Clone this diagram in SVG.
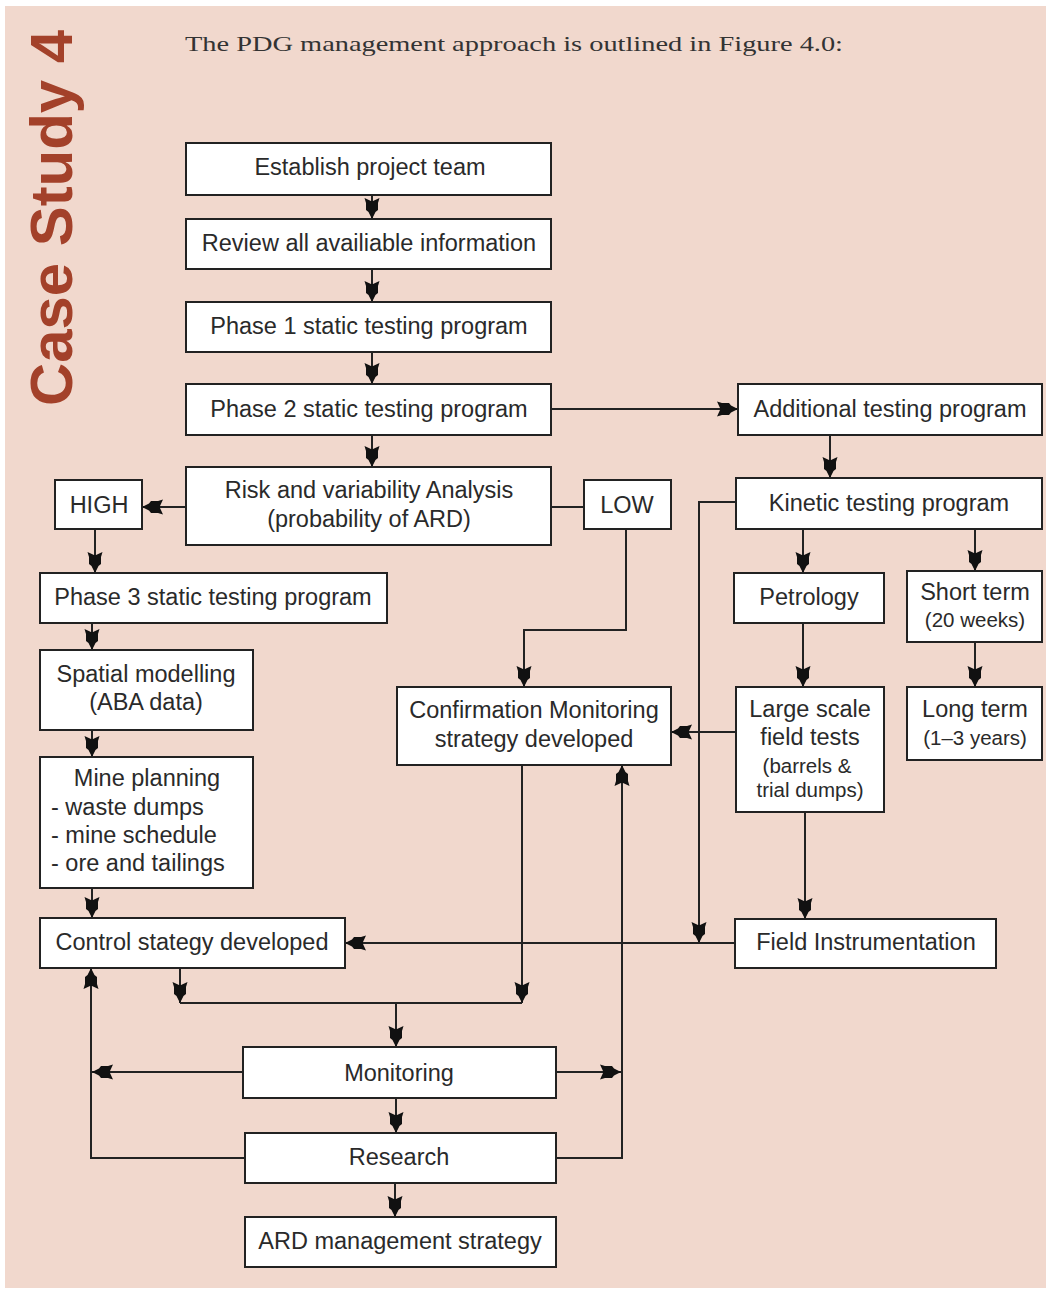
<svg xmlns="http://www.w3.org/2000/svg" width="1050" height="1292" viewBox="0 0 1050 1292">
<style>
.box{fill:#fff;stroke:#222;stroke-width:2}
.t{font-family:"Liberation Sans",Arial,sans-serif;font-size:23.5px;fill:#2a2a2a;text-anchor:middle}
.s{font-size:20.5px}
.l{text-anchor:start}
.ln{fill:none;stroke:#222;stroke-width:2}
</style>
<defs>
<marker id="ah" markerUnits="userSpaceOnUse" markerWidth="25" markerHeight="20" viewBox="-22 -10 25 20" refX="2" refY="0" orient="auto">
<path d="M2,0 L-5,-3.5 L-7,-6 L-14,-6 L-19,-7.5 L-16,-1 L-16,1 L-19,7.5 L-14,6 L-7,6 L-5,3.5 Z" fill="#111"/>
</marker>
</defs>
<rect x="0" y="0" width="1050" height="1292" fill="#fff"/>
<rect x="5" y="6" width="1041" height="1282" fill="#f1d8cd"/>
<text transform="translate(72,406) rotate(-90)" font-family="Liberation Sans,Arial,sans-serif" font-weight="bold" font-size="60" fill="#a3412a" textLength="376" lengthAdjust="spacingAndGlyphs">Case Study 4</text>
<text x="185" y="51" font-family="Liberation Serif,serif" font-size="22" fill="#333" textLength="658" lengthAdjust="spacingAndGlyphs">The PDG management approach is outlined in Figure 4.0:</text>

<g id="connectors">
<path class="ln" d="M372,195 V219" marker-end="url(#ah)"/>
<path class="ln" d="M372,269 V302" marker-end="url(#ah)"/>
<path class="ln" d="M372,352 V384" marker-end="url(#ah)"/>
<path class="ln" d="M372,435 V467" marker-end="url(#ah)"/>
<path class="ln" d="M551,409 H738" marker-end="url(#ah)"/>
<path class="ln" d="M186,507 H142" marker-end="url(#ah)"/>
<path class="ln" d="M551,507 H584"/>
<path class="ln" d="M95,529 V573" marker-end="url(#ah)"/>
<path class="ln" d="M92,623 V650" marker-end="url(#ah)"/>
<path class="ln" d="M92,730 V757" marker-end="url(#ah)"/>
<path class="ln" d="M92,888 V918" marker-end="url(#ah)"/>
<path class="ln" d="M626,529 V630 H524 V687" marker-end="url(#ah)"/>
<path class="ln" d="M830,435 V478" marker-end="url(#ah)"/>
<path class="ln" d="M736,502 H699 V943" marker-end="url(#ah)"/>
<path class="ln" d="M803,529 V573" marker-end="url(#ah)"/>
<path class="ln" d="M975,529 V571" marker-end="url(#ah)"/>
<path class="ln" d="M975,642 V687" marker-end="url(#ah)"/>
<path class="ln" d="M803,623 V687" marker-end="url(#ah)"/>
<path class="ln" d="M736,732 H671" marker-end="url(#ah)"/>
<path class="ln" d="M805,812 V919" marker-end="url(#ah)"/>
<path class="ln" d="M735,943 H345" marker-end="url(#ah)"/>
<path class="ln" d="M522,765 V1003" marker-end="url(#ah)"/>
<path class="ln" d="M180,968 V1003" marker-end="url(#ah)"/>
<path class="ln" d="M180,1003 H522"/>
<path class="ln" d="M396,1003 V1047" marker-end="url(#ah)"/>
<path class="ln" d="M243,1072 H92" marker-end="url(#ah)"/>
<path class="ln" d="M245,1158 H91 V968" marker-end="url(#ah)"/>
<path class="ln" d="M556,1072 H621" marker-end="url(#ah)"/>
<path class="ln" d="M556,1158 H622 V765" marker-end="url(#ah)"/>
<path class="ln" d="M396,1098 V1133" marker-end="url(#ah)"/>
<path class="ln" d="M395,1183 V1217" marker-end="url(#ah)"/>
</g>

<g id="n-establish"><rect class="box" x="186" y="143" width="365" height="52"/><text class="t" x="370" y="175">Establish project team</text></g>
<g id="n-review"><rect class="box" x="186" y="219" width="365" height="50"/><text class="t" x="369" y="251">Review all availiable information</text></g>
<g id="n-phase1"><rect class="box" x="186" y="302" width="365" height="50"/><text class="t" x="369" y="334">Phase 1 static testing program</text></g>
<g id="n-phase2"><rect class="box" x="186" y="384" width="365" height="51"/><text class="t" x="369" y="417">Phase 2 static testing program</text></g>
<g id="n-risk"><rect class="box" x="186" y="467" width="365" height="78"/><text class="t" x="369" y="498">Risk and variability Analysis</text><text class="t" x="369" y="527">(probability of ARD)</text></g>
<g id="n-high"><rect class="box" x="55" y="480" width="87" height="49"/><text class="t" x="99" y="513">HIGH</text></g>
<g id="n-low"><rect class="box" x="584" y="480" width="87" height="49"/><text class="t" x="627" y="513">LOW</text></g>
<g id="n-additional"><rect class="box" x="738" y="384" width="304" height="51"/><text class="t" x="890" y="417">Additional testing program</text></g>
<g id="n-kinetic"><rect class="box" x="736" y="478" width="306" height="51"/><text class="t" x="889" y="511">Kinetic testing program</text></g>
<g id="n-phase3"><rect class="box" x="40" y="573" width="347" height="50"/><text class="t" x="213" y="605">Phase 3 static testing program</text></g>
<g id="n-petrology"><rect class="box" x="734" y="573" width="150" height="50"/><text class="t" x="809" y="605">Petrology</text></g>
<g id="n-short"><rect class="box" x="907" y="571" width="135" height="71"/><text class="t" x="975" y="600">Short term</text><text class="t s" x="975" y="627">(20 weeks)</text></g>
<g id="n-spatial"><rect class="box" x="40" y="650" width="213" height="80"/><text class="t" x="146" y="682">Spatial modelling</text><text class="t" x="146" y="710">(ABA data)</text></g>
<g id="n-confirm"><rect class="box" x="397" y="687" width="274" height="78"/><text class="t" x="534" y="718">Confirmation Monitoring</text><text class="t" x="534" y="747">strategy developed</text></g>
<g id="n-large"><rect class="box" x="736" y="687" width="148" height="125"/><text class="t" x="810" y="717">Large scale</text><text class="t" x="810" y="745">field tests</text><text class="t s" x="807" y="773">(barrels &amp;</text><text class="t s" x="810" y="797">trial dumps)</text></g>
<g id="n-long"><rect class="box" x="907" y="687" width="135" height="73"/><text class="t" x="975" y="717">Long term</text><text class="t s" x="975" y="745">(1–3 years)</text></g>
<g id="n-mine"><rect class="box" x="40" y="757" width="213" height="131"/><text class="t" x="147" y="786">Mine planning</text><text class="t l" x="51" y="815">- waste dumps</text><text class="t l" x="51" y="843">- mine schedule</text><text class="t l" x="51" y="871">- ore and tailings</text></g>
<g id="n-control"><rect class="box" x="40" y="918" width="305" height="50"/><text class="t" x="192" y="950">Control stategy developed</text></g>
<g id="n-field"><rect class="box" x="735" y="919" width="261" height="49"/><text class="t" x="866" y="950">Field Instrumentation</text></g>
<g id="n-monitoring"><rect class="box" x="243" y="1047" width="313" height="51"/><text class="t" x="399" y="1081">Monitoring</text></g>
<g id="n-research"><rect class="box" x="245" y="1133" width="311" height="50"/><text class="t" x="399" y="1165">Research</text></g>
<g id="n-ard"><rect class="box" x="245" y="1217" width="311" height="50"/><text class="t" x="400" y="1249">ARD management strategy</text></g>
</svg>
